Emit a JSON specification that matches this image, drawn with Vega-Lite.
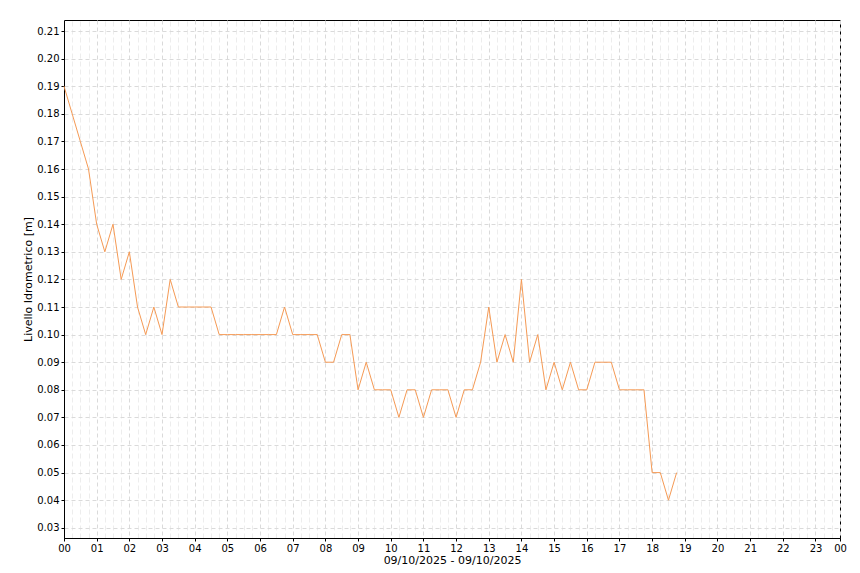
{
  "$schema": "https://vega.github.io/schema/vega-lite/v6.json",
  "width": 776,
  "height": 518,
  "autosize": "none",
  "padding": {"left": 64, "top": 20, "right": 20, "bottom": 35},
  "background": "white",
  "data": {
    "values": [
      {"ora": "2025-10-09T00:00:00", "livello": 0.19},
      {"ora": "2025-10-09T00:15:00", "livello": 0.18},
      {"ora": "2025-10-09T00:30:00", "livello": 0.17},
      {"ora": "2025-10-09T00:45:00", "livello": 0.16},
      {"ora": "2025-10-09T01:00:00", "livello": 0.14},
      {"ora": "2025-10-09T01:15:00", "livello": 0.13},
      {"ora": "2025-10-09T01:30:00", "livello": 0.14},
      {"ora": "2025-10-09T01:45:00", "livello": 0.12},
      {"ora": "2025-10-09T02:00:00", "livello": 0.13},
      {"ora": "2025-10-09T02:15:00", "livello": 0.11},
      {"ora": "2025-10-09T02:30:00", "livello": 0.10},
      {"ora": "2025-10-09T02:45:00", "livello": 0.11},
      {"ora": "2025-10-09T03:00:00", "livello": 0.10},
      {"ora": "2025-10-09T03:15:00", "livello": 0.12},
      {"ora": "2025-10-09T03:30:00", "livello": 0.11},
      {"ora": "2025-10-09T03:45:00", "livello": 0.11},
      {"ora": "2025-10-09T04:00:00", "livello": 0.11},
      {"ora": "2025-10-09T04:15:00", "livello": 0.11},
      {"ora": "2025-10-09T04:30:00", "livello": 0.11},
      {"ora": "2025-10-09T04:45:00", "livello": 0.10},
      {"ora": "2025-10-09T05:00:00", "livello": 0.10},
      {"ora": "2025-10-09T05:15:00", "livello": 0.10},
      {"ora": "2025-10-09T05:30:00", "livello": 0.10},
      {"ora": "2025-10-09T05:45:00", "livello": 0.10},
      {"ora": "2025-10-09T06:00:00", "livello": 0.10},
      {"ora": "2025-10-09T06:15:00", "livello": 0.10},
      {"ora": "2025-10-09T06:30:00", "livello": 0.10},
      {"ora": "2025-10-09T06:45:00", "livello": 0.11},
      {"ora": "2025-10-09T07:00:00", "livello": 0.10},
      {"ora": "2025-10-09T07:15:00", "livello": 0.10},
      {"ora": "2025-10-09T07:30:00", "livello": 0.10},
      {"ora": "2025-10-09T07:45:00", "livello": 0.10},
      {"ora": "2025-10-09T08:00:00", "livello": 0.09},
      {"ora": "2025-10-09T08:15:00", "livello": 0.09},
      {"ora": "2025-10-09T08:30:00", "livello": 0.10},
      {"ora": "2025-10-09T08:45:00", "livello": 0.10},
      {"ora": "2025-10-09T09:00:00", "livello": 0.08},
      {"ora": "2025-10-09T09:15:00", "livello": 0.09},
      {"ora": "2025-10-09T09:30:00", "livello": 0.08},
      {"ora": "2025-10-09T09:45:00", "livello": 0.08},
      {"ora": "2025-10-09T10:00:00", "livello": 0.08},
      {"ora": "2025-10-09T10:15:00", "livello": 0.07},
      {"ora": "2025-10-09T10:30:00", "livello": 0.08},
      {"ora": "2025-10-09T10:45:00", "livello": 0.08},
      {"ora": "2025-10-09T11:00:00", "livello": 0.07},
      {"ora": "2025-10-09T11:15:00", "livello": 0.08},
      {"ora": "2025-10-09T11:30:00", "livello": 0.08},
      {"ora": "2025-10-09T11:45:00", "livello": 0.08},
      {"ora": "2025-10-09T12:00:00", "livello": 0.07},
      {"ora": "2025-10-09T12:15:00", "livello": 0.08},
      {"ora": "2025-10-09T12:30:00", "livello": 0.08},
      {"ora": "2025-10-09T12:45:00", "livello": 0.09},
      {"ora": "2025-10-09T13:00:00", "livello": 0.11},
      {"ora": "2025-10-09T13:15:00", "livello": 0.09},
      {"ora": "2025-10-09T13:30:00", "livello": 0.10},
      {"ora": "2025-10-09T13:45:00", "livello": 0.09},
      {"ora": "2025-10-09T14:00:00", "livello": 0.12},
      {"ora": "2025-10-09T14:15:00", "livello": 0.09},
      {"ora": "2025-10-09T14:30:00", "livello": 0.10},
      {"ora": "2025-10-09T14:45:00", "livello": 0.08},
      {"ora": "2025-10-09T15:00:00", "livello": 0.09},
      {"ora": "2025-10-09T15:15:00", "livello": 0.08},
      {"ora": "2025-10-09T15:30:00", "livello": 0.09},
      {"ora": "2025-10-09T15:45:00", "livello": 0.08},
      {"ora": "2025-10-09T16:00:00", "livello": 0.08},
      {"ora": "2025-10-09T16:15:00", "livello": 0.09},
      {"ora": "2025-10-09T16:30:00", "livello": 0.09},
      {"ora": "2025-10-09T16:45:00", "livello": 0.09},
      {"ora": "2025-10-09T17:00:00", "livello": 0.08},
      {"ora": "2025-10-09T17:15:00", "livello": 0.08},
      {"ora": "2025-10-09T17:30:00", "livello": 0.08},
      {"ora": "2025-10-09T17:45:00", "livello": 0.08},
      {"ora": "2025-10-09T18:00:00", "livello": 0.05},
      {"ora": "2025-10-09T18:15:00", "livello": 0.05},
      {"ora": "2025-10-09T18:30:00", "livello": 0.04},
      {"ora": "2025-10-09T18:45:00", "livello": 0.05}
    ]
  },
  "encoding": {
    "y": {
      "field": "livello",
      "type": "quantitative",
      "scale": {"domain": [0.0263, 0.214], "nice": false, "zero": false},
      "axis": {
        "title": "Livello Idrometrico [m]",
        "values": [0.03, 0.04, 0.05, 0.06, 0.07, 0.08, 0.09, 0.10, 0.11, 0.12, 0.13, 0.14, 0.15, 0.16, 0.17, 0.18, 0.19, 0.20, 0.21],
        "format": ".2f",
        "grid": true,
        "gridColor": "#dadada",
        "gridDash": [4, 3],
        "titlePadding": 3
      }
    }
  },
  "layer": [
    {
      "mark": {"type": "line", "strokeOpacity": 0},
      "encoding": {
        "x": {
          "field": "ora",
          "type": "temporal",
          "scale": {"domain": ["2025-10-09T00:00:00", "2025-10-09T23:45:00"]},
          "axis": {
            "orient": "top",
            "title": null,
            "labels": false,
            "ticks": false,
            "domain": false,
            "grid": true,
            "gridColor": "#ededed",
            "gridDash": [5, 3],
            "values": [
              {"year": 2025, "month": 10, "date": 9, "hours": 0, "minutes": 15}, {"year": 2025, "month": 10, "date": 9, "hours": 0, "minutes": 30}, {"year": 2025, "month": 10, "date": 9, "hours": 0, "minutes": 45},
              {"year": 2025, "month": 10, "date": 9, "hours": 1, "minutes": 15}, {"year": 2025, "month": 10, "date": 9, "hours": 1, "minutes": 30}, {"year": 2025, "month": 10, "date": 9, "hours": 1, "minutes": 45},
              {"year": 2025, "month": 10, "date": 9, "hours": 2, "minutes": 15}, {"year": 2025, "month": 10, "date": 9, "hours": 2, "minutes": 30}, {"year": 2025, "month": 10, "date": 9, "hours": 2, "minutes": 45},
              {"year": 2025, "month": 10, "date": 9, "hours": 3, "minutes": 15}, {"year": 2025, "month": 10, "date": 9, "hours": 3, "minutes": 30}, {"year": 2025, "month": 10, "date": 9, "hours": 3, "minutes": 45},
              {"year": 2025, "month": 10, "date": 9, "hours": 4, "minutes": 15}, {"year": 2025, "month": 10, "date": 9, "hours": 4, "minutes": 30}, {"year": 2025, "month": 10, "date": 9, "hours": 4, "minutes": 45},
              {"year": 2025, "month": 10, "date": 9, "hours": 5, "minutes": 15}, {"year": 2025, "month": 10, "date": 9, "hours": 5, "minutes": 30}, {"year": 2025, "month": 10, "date": 9, "hours": 5, "minutes": 45},
              {"year": 2025, "month": 10, "date": 9, "hours": 6, "minutes": 15}, {"year": 2025, "month": 10, "date": 9, "hours": 6, "minutes": 30}, {"year": 2025, "month": 10, "date": 9, "hours": 6, "minutes": 45},
              {"year": 2025, "month": 10, "date": 9, "hours": 7, "minutes": 15}, {"year": 2025, "month": 10, "date": 9, "hours": 7, "minutes": 30}, {"year": 2025, "month": 10, "date": 9, "hours": 7, "minutes": 45},
              {"year": 2025, "month": 10, "date": 9, "hours": 8, "minutes": 15}, {"year": 2025, "month": 10, "date": 9, "hours": 8, "minutes": 30}, {"year": 2025, "month": 10, "date": 9, "hours": 8, "minutes": 45},
              {"year": 2025, "month": 10, "date": 9, "hours": 9, "minutes": 15}, {"year": 2025, "month": 10, "date": 9, "hours": 9, "minutes": 30}, {"year": 2025, "month": 10, "date": 9, "hours": 9, "minutes": 45},
              {"year": 2025, "month": 10, "date": 9, "hours": 10, "minutes": 15}, {"year": 2025, "month": 10, "date": 9, "hours": 10, "minutes": 30}, {"year": 2025, "month": 10, "date": 9, "hours": 10, "minutes": 45},
              {"year": 2025, "month": 10, "date": 9, "hours": 11, "minutes": 15}, {"year": 2025, "month": 10, "date": 9, "hours": 11, "minutes": 30}, {"year": 2025, "month": 10, "date": 9, "hours": 11, "minutes": 45},
              {"year": 2025, "month": 10, "date": 9, "hours": 12, "minutes": 15}, {"year": 2025, "month": 10, "date": 9, "hours": 12, "minutes": 30}, {"year": 2025, "month": 10, "date": 9, "hours": 12, "minutes": 45},
              {"year": 2025, "month": 10, "date": 9, "hours": 13, "minutes": 15}, {"year": 2025, "month": 10, "date": 9, "hours": 13, "minutes": 30}, {"year": 2025, "month": 10, "date": 9, "hours": 13, "minutes": 45},
              {"year": 2025, "month": 10, "date": 9, "hours": 14, "minutes": 15}, {"year": 2025, "month": 10, "date": 9, "hours": 14, "minutes": 30}, {"year": 2025, "month": 10, "date": 9, "hours": 14, "minutes": 45},
              {"year": 2025, "month": 10, "date": 9, "hours": 15, "minutes": 15}, {"year": 2025, "month": 10, "date": 9, "hours": 15, "minutes": 30}, {"year": 2025, "month": 10, "date": 9, "hours": 15, "minutes": 45},
              {"year": 2025, "month": 10, "date": 9, "hours": 16, "minutes": 15}, {"year": 2025, "month": 10, "date": 9, "hours": 16, "minutes": 30}, {"year": 2025, "month": 10, "date": 9, "hours": 16, "minutes": 45},
              {"year": 2025, "month": 10, "date": 9, "hours": 17, "minutes": 15}, {"year": 2025, "month": 10, "date": 9, "hours": 17, "minutes": 30}, {"year": 2025, "month": 10, "date": 9, "hours": 17, "minutes": 45},
              {"year": 2025, "month": 10, "date": 9, "hours": 18, "minutes": 15}, {"year": 2025, "month": 10, "date": 9, "hours": 18, "minutes": 30}, {"year": 2025, "month": 10, "date": 9, "hours": 18, "minutes": 45},
              {"year": 2025, "month": 10, "date": 9, "hours": 19, "minutes": 15}, {"year": 2025, "month": 10, "date": 9, "hours": 19, "minutes": 30}, {"year": 2025, "month": 10, "date": 9, "hours": 19, "minutes": 45},
              {"year": 2025, "month": 10, "date": 9, "hours": 20, "minutes": 15}, {"year": 2025, "month": 10, "date": 9, "hours": 20, "minutes": 30}, {"year": 2025, "month": 10, "date": 9, "hours": 20, "minutes": 45},
              {"year": 2025, "month": 10, "date": 9, "hours": 21, "minutes": 15}, {"year": 2025, "month": 10, "date": 9, "hours": 21, "minutes": 30}, {"year": 2025, "month": 10, "date": 9, "hours": 21, "minutes": 45},
              {"year": 2025, "month": 10, "date": 9, "hours": 22, "minutes": 15}, {"year": 2025, "month": 10, "date": 9, "hours": 22, "minutes": 30}, {"year": 2025, "month": 10, "date": 9, "hours": 22, "minutes": 45},
              {"year": 2025, "month": 10, "date": 9, "hours": 23, "minutes": 15}, {"year": 2025, "month": 10, "date": 9, "hours": 23, "minutes": 30}
            ]
          }
        }
      }
    },
    {
      "mark": {"type": "line", "color": "#f59a55", "strokeWidth": 1},
      "encoding": {
        "x": {
          "field": "ora",
          "type": "temporal",
          "axis": {
            "orient": "bottom",
            "title": "09/10/2025 - 09/10/2025",
            "titlePadding": 1,
            "grid": true,
            "gridColor": "#dadada",
            "gridDash": [4, 3],
            "labelFlush": false,
            "labelOverlap": false,
            "values": [
              {"year": 2025, "month": 10, "date": 9, "hours": 0},
              {"year": 2025, "month": 10, "date": 9, "hours": 1},
              {"year": 2025, "month": 10, "date": 9, "hours": 2},
              {"year": 2025, "month": 10, "date": 9, "hours": 3},
              {"year": 2025, "month": 10, "date": 9, "hours": 4},
              {"year": 2025, "month": 10, "date": 9, "hours": 5},
              {"year": 2025, "month": 10, "date": 9, "hours": 6},
              {"year": 2025, "month": 10, "date": 9, "hours": 7},
              {"year": 2025, "month": 10, "date": 9, "hours": 8},
              {"year": 2025, "month": 10, "date": 9, "hours": 9},
              {"year": 2025, "month": 10, "date": 9, "hours": 10},
              {"year": 2025, "month": 10, "date": 9, "hours": 11},
              {"year": 2025, "month": 10, "date": 9, "hours": 12},
              {"year": 2025, "month": 10, "date": 9, "hours": 13},
              {"year": 2025, "month": 10, "date": 9, "hours": 14},
              {"year": 2025, "month": 10, "date": 9, "hours": 15},
              {"year": 2025, "month": 10, "date": 9, "hours": 16},
              {"year": 2025, "month": 10, "date": 9, "hours": 17},
              {"year": 2025, "month": 10, "date": 9, "hours": 18},
              {"year": 2025, "month": 10, "date": 9, "hours": 19},
              {"year": 2025, "month": 10, "date": 9, "hours": 20},
              {"year": 2025, "month": 10, "date": 9, "hours": 21},
              {"year": 2025, "month": 10, "date": 9, "hours": 22},
              {"year": 2025, "month": 10, "date": 9, "hours": 23},
              {"year": 2025, "month": 10, "date": 9, "hours": 23, "minutes": 45}
            ],
            "labelExpr": "minutes(datum.value) == 45 ? '00' : timeFormat(datum.value, '%H')"
          }
        }
      }
    }
  ],
  "resolve": {"axis": {"x": "independent"}},
  "config": {
    "view": {"stroke": "#000000", "strokeWidth": 1},
    "axis": {
      "labelFont": "DejaVu Sans",
      "labelFontSize": 10,
      "labelColor": "#000000",
      "titleFont": "DejaVu Sans",
      "titleFontSize": 11,
      "titleFontWeight": "normal",
      "titleColor": "#000000",
      "domainColor": "#000000",
      "tickColor": "#000000",
      "tickSize": 3,
      "labelPadding": 2,
      "gridOpacity": 1
    }
  }
}
